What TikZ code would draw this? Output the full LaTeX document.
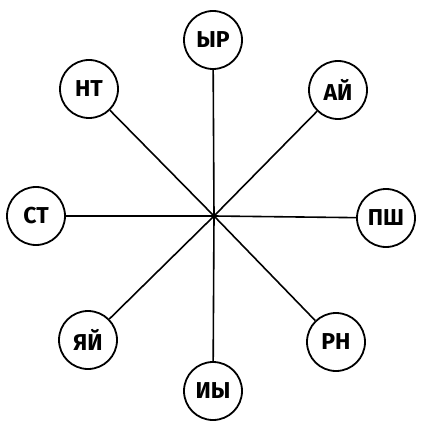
\documentclass[tikz,border=0pt]{standalone}
\usepackage{fontspec}
\setmainfont{Fira Sans}
\begin{document}
\begin{tikzpicture}[x=1pt,y=-1pt,
  term/.style={circle,draw,line width=1.8pt,minimum size=58pt,inner sep=0pt,font=\fontsize{23}{23}\selectfont\bfseries},
  spoke/.style={line width=1.6pt}]
\useasboundingbox (0,0) rectangle (430,435);
\coordinate (c) at (214,216);
\node[term] (yr) at (213,40) {ЫР};
\node[term] (ay) at (338,90) {АЙ};
\node[term] (psh) at (386,218) {ПШ};
\node[term] (rn) at (336,342) {РН};
\node[term] (iy) at (213,391) {ИЫ};
\node[term] (yay) at (88,340) {ЯЙ};
\node[term] (st) at (36,216) {СТ};
\node[term] (nt) at (89,89) {НТ};
\foreach \n in {yr,ay,psh,rn,iy,yay,st,nt} \draw[spoke] (c) -- (\n);
\end{tikzpicture}
\end{document}
